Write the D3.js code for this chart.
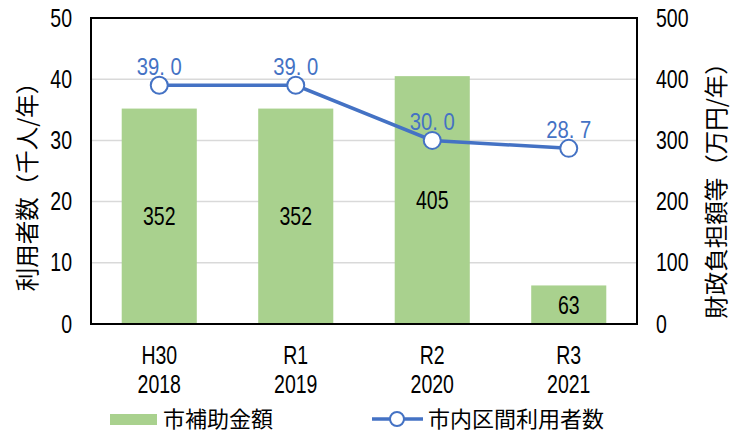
<!DOCTYPE html>
<html>
<head>
<meta charset="utf-8">
<script src="https://cdn.jsdelivr.net/npm/d3@7"></script>
<style>
  body { margin: 0; background: #fff; }
  svg text { font-family: "Liberation Sans", "Noto Sans", sans-serif; }
  svg text.cjk { font-family: "Noto Sans CJK JP", sans-serif; }
</style>
</head>
<body>
<div id="chart"></div>
<script>
// data
const categories = ["H30\n2018", "R1\n2019", "R2\n2020", "R3\n2021"];
const subsidy = [352, 352, 405, 63];          // 市補助金額 (万円/年), right axis
const riders = [39.0, 39.0, 30.0, 28.7];      // 市内区間利用者数 (千人/年), left axis
const leftTicks = [0, 10, 20, 30, 40, 50];
const rightTicks = [0, 100, 200, 300, 400, 500];

const width = 735, height = 434;
const marginTop = 18, marginRight = 98, marginBottom = 110, marginLeft = 91;
const barColor = "#a9d18e", lineColor = "#4472c4";
const numSize = 25, squeeze = 0.78; // narrow numerals like the original UI font

const svg = d3.select("#chart").append("svg")
  .attr("width", width).attr("height", height)
  .attr("viewBox", [0, 0, width, height]);

const x = d3.scaleBand()
  .domain(categories)
  .range([marginLeft, width - marginRight])
  .paddingInner(0.45).paddingOuter(0.225);
const cx = (i) => x(categories[i]) + x.bandwidth() / 2;

const yLeft = d3.scaleLinear().domain([0, 50]).range([height - marginBottom, marginTop]);
const yRight = d3.scaleLinear().domain([0, 500]).range([height - marginBottom, marginTop]);

// place a squeezed text at (px, py)
function narrow(sel, px, py, sx) {
  return sel.attr("transform", (d, i) => `translate(${px(d, i)},${py(d, i)}) scale(${sx},1)`);
}

// gridlines
svg.append("g")
  .selectAll("line")
  .data(leftTicks.slice(1, -1))
  .join("line")
  .attr("x1", marginLeft).attr("x2", width - marginRight)
  .attr("y1", d => yLeft(d)).attr("y2", d => yLeft(d))
  .attr("stroke", "#d9d9d9").attr("stroke-width", 1.5);

// bars
svg.append("g")
  .selectAll("rect")
  .data(subsidy)
  .join("rect")
  .attr("x", (d, i) => x(categories[i]))
  .attr("width", x.bandwidth())
  .attr("y", d => yRight(d))
  .attr("height", d => yRight(0) - yRight(d))
  .attr("fill", barColor);

// bar labels, centred in bar
narrow(svg.append("g")
  .selectAll("text")
  .data(subsidy)
  .join("text"),
  (d, i) => cx(i), d => (yRight(d) + yRight(0)) / 2, squeeze)
  .attr("dy", "0.36em")
  .attr("text-anchor", "middle")
  .attr("font-size", numSize)
  .attr("fill", "#000")
  .text(d => d);

// plot frame
svg.append("rect")
  .attr("x", marginLeft).attr("y", marginTop)
  .attr("width", width - marginRight - marginLeft)
  .attr("height", height - marginBottom - marginTop)
  .attr("fill", "none").attr("stroke", "#000").attr("stroke-width", 2);

// left axis
const axisL = svg.append("g")
  .attr("transform", `translate(${marginLeft},0)`)
  .call(d3.axisLeft(yLeft).tickValues(leftTicks).tickSize(0).tickPadding(19));
axisL.select(".domain").remove();
axisL.selectAll("text")
  .attr("font-size", numSize).attr("fill", "#000").attr("font-family", null)
  .attr("x", -19 / squeeze).attr("transform", `scale(${squeeze},1)`);

// right axis
const axisR = svg.append("g")
  .attr("transform", `translate(${width - marginRight},0)`)
  .call(d3.axisRight(yRight).tickValues(rightTicks).tickSize(0).tickPadding(19));
axisR.select(".domain").remove();
axisR.selectAll("text")
  .attr("font-size", numSize).attr("fill", "#000").attr("font-family", null)
  .attr("x", 19 / squeeze).attr("transform", `scale(${squeeze},1)`);

// x axis labels: two separate lines per category
const xLines = [0, 1];
xLines.forEach(k => {
  narrow(svg.append("g")
    .selectAll("text")
    .data(categories)
    .join("text"),
    d => x(d) + x.bandwidth() / 2, () => 364 + k * 29, squeeze)
    .attr("text-anchor", "middle")
    .attr("font-size", numSize)
    .attr("fill", "#000")
    .text(d => d.split("\n")[k]);
});

// line series
const line = d3.line()
  .x((d, i) => cx(i))
  .y(d => yLeft(d));

svg.append("path")
  .datum(riders)
  .attr("d", line)
  .attr("fill", "none")
  .attr("stroke", lineColor)
  .attr("stroke-width", 3.5);

svg.append("g")
  .selectAll("circle")
  .data(riders)
  .join("circle")
  .attr("cx", (d, i) => cx(i))
  .attr("cy", d => yLeft(d))
  .attr("r", 8.5)
  .attr("fill", "#fff")
  .attr("stroke", lineColor)
  .attr("stroke-width", 2);

narrow(svg.append("g")
  .selectAll("text")
  .data(riders)
  .join("text"),
  (d, i) => cx(i), d => yLeft(d) - 10, 0.88)
  .attr("text-anchor", "middle")
  .attr("font-size", 23)
  .attr("fill", lineColor)
  .text(d => d.toFixed(1).replace(".", ". "));

// axis titles
svg.append("text")
  .attr("class", "cjk")
  .attr("transform", "translate(28,181) rotate(-90)")
  .attr("text-anchor", "middle")
  .attr("dy", "0.35em")
  .attr("font-size", 23.5)
  .attr("fill", "#000")
  .text("利用者数（千人/年）");

svg.append("text")
  .attr("class", "cjk")
  .attr("transform", "translate(717,185) rotate(-90)")
  .attr("text-anchor", "middle")
  .attr("dy", "0.35em")
  .attr("font-size", 23.5)
  .attr("fill", "#000")
  .text("財政負担額等（万円/年）");

// legend
const legend = svg.append("g").attr("transform", "translate(0,419)");
legend.append("rect")
  .attr("x", 110).attr("y", -5).attr("width", 47).attr("height", 11)
  .attr("fill", barColor);
legend.append("text")
  .attr("class", "cjk")
  .attr("x", 163).attr("dy", "0.35em")
  .attr("font-size", 22).attr("fill", "#000")
  .text("市補助金額");
legend.append("line")
  .attr("x1", 372).attr("x2", 423)
  .attr("stroke", lineColor).attr("stroke-width", 3.5);
legend.append("circle")
  .attr("cx", 397).attr("r", 7)
  .attr("fill", "#fff").attr("stroke", lineColor).attr("stroke-width", 2);
legend.append("text")
  .attr("class", "cjk")
  .attr("x", 428).attr("dy", "0.35em")
  .attr("font-size", 22).attr("fill", "#000")
  .text("市内区間利用者数");
</script>
</body>
</html>
